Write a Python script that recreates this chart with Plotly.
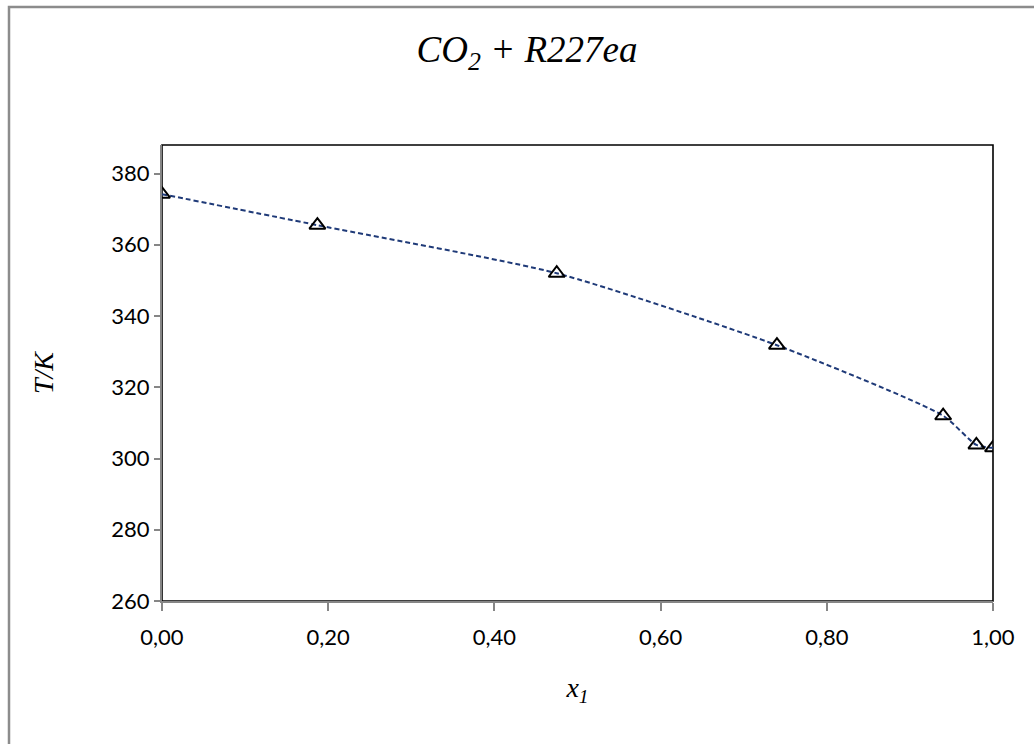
import plotly.graph_objects as go

# Data
x1 = [0.0, 0.187, 0.475, 0.740, 0.940, 0.980, 1.0]
T_K = [374.2, 365.5, 352.0, 331.8, 312.0, 303.8, 303.0]

x_ticks = [0.0, 0.2, 0.4, 0.6, 0.8, 1.0]
y_ticks = [260, 280, 300, 320, 340, 360, 380]

L, R, Tm, B = 162, 41, 145, 143
W, H = 1034, 744
pw, ph = W - L - R, H - Tm - B

fig = go.Figure()
fig.add_trace(go.Scatter(
    x=x1, y=T_K, mode="lines",
    line=dict(color="#1F3A78", width=2, dash="5px,3px", shape="spline", smoothing=0.6),
    showlegend=False, hoverinfo="skip"))
fig.add_trace(go.Scatter(
    x=x1, y=T_K, mode="markers",
    marker=dict(symbol="triangle-up-open", size=14, color="black", line=dict(color="black", width=2)),
    showlegend=False))

def px2paper_x(p):
    return (p - L) / pw

def px2paper_y(p):
    return (H - B - p) / ph

fig.update_layout(
    width=W, height=H,
    margin=dict(l=L, r=R, t=Tm, b=B),
    paper_bgcolor="white", plot_bgcolor="white",
    separators=", ",
    font=dict(family="Lato", size=22, color="black"),
    title=dict(text="<i>CO<sub>2</sub> + R227ea</i>", x=527 / W, xanchor="center",
               y=1 - 49 / H, yanchor="middle",
               font=dict(family="Liberation Serif", size=37, color="black")),
    xaxis=dict(range=[0, 1], tickvals=x_ticks, tickformat=".2f",
               showgrid=False, zeroline=False,
               showline=True, linecolor="#868686", linewidth=2,
               ticks="outside", ticklen=8, tickcolor="#868686", tickwidth=1.5,
               ticklabelstandoff=8,
               title=dict(text="<i>x<sub>1</sub></i>", standoff=28,
                          font=dict(family="Liberation Serif", size=28, color="black"))),
    yaxis=dict(range=[260, 388], tickvals=y_ticks,
               showgrid=False, zeroline=False,
               showline=True, linecolor="#868686", linewidth=2,
               ticks="outside", ticklen=6, tickcolor="#868686", tickwidth=1.5,
               title=dict(text="<i>T/K</i>", standoff=50,
                          font=dict(family="Liberation Serif", size=28, color="black"))),
    shapes=[
        dict(type="rect", xref="paper", yref="paper", x0=0, x1=1, y0=0, y1=1,
             line=dict(color="black", width=1.6), layer="below"),
        dict(type="rect", xref="paper", yref="paper",
             x0=px2paper_x(9), x1=px2paper_x(1045), y0=px2paper_y(760), y1=px2paper_y(7),
             line=dict(color="#8C8C8C", width=2.5), layer="below"),
    ],
)

fig.write_html("out.html")
